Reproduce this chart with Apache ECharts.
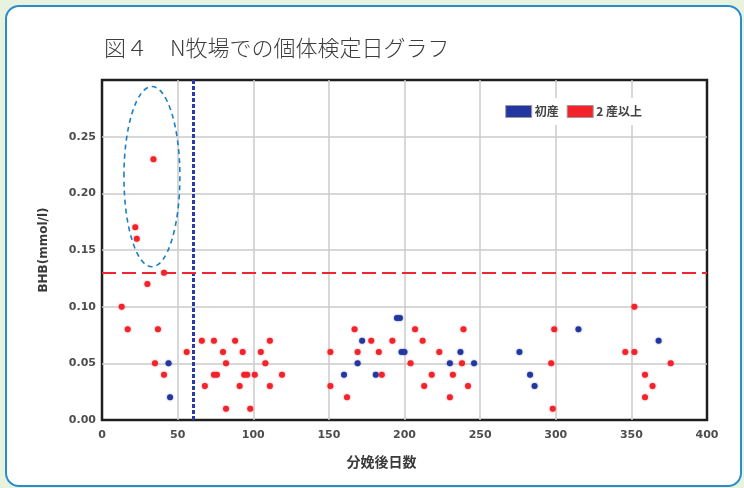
<!DOCTYPE html>
<html><head><meta charset="utf-8">
<script src="https://cdn.jsdelivr.net/npm/echarts@6/dist/echarts.min.js"></script>
<style>
html,body{margin:0;padding:0;background:#e8f3df;}
#card{position:absolute;left:5px;top:5px;width:733px;height:478px;border:2px solid #2b8ccc;border-radius:14px;background:#fff;}
#main{position:absolute;left:0;top:0;width:744px;height:488px;}
</style></head>
<body>
<div id="card"></div>
<div id="main"></div>
<script>
// 初産 (primiparous)
const firstDays = [44, 45, 160, 169, 172, 181, 195, 197, 198, 200, 230, 237, 246, 276, 283, 286, 315, 368];
const firstBHB  = [0.05, 0.02, 0.04, 0.05, 0.07, 0.04, 0.09, 0.09, 0.06, 0.06, 0.05, 0.06, 0.05, 0.06, 0.04, 0.03, 0.08, 0.07];
// 2産以上 (multiparous)
const multiDays = [13, 17, 22, 23, 30, 34, 35, 37, 41, 41, 56, 66, 74, 88, 111, 80, 93, 105, 82, 108, 74, 76, 94, 96, 101, 119, 68, 91, 111, 82, 98,
                   151, 151, 162, 167, 169, 178, 183, 185, 192, 204, 207, 212, 218, 213, 223, 230, 232, 238, 239, 242,
                   297, 299, 298, 346, 352, 352, 359, 364, 359, 376];
const multiBHB  = [0.10, 0.08, 0.17, 0.16, 0.12, 0.23, 0.05, 0.08, 0.04, 0.13, 0.06, 0.07, 0.07, 0.07, 0.07, 0.06, 0.06, 0.06, 0.05, 0.05, 0.04, 0.04, 0.04, 0.04, 0.04, 0.04, 0.03, 0.03, 0.03, 0.01, 0.01,
                   0.06, 0.03, 0.02, 0.08, 0.06, 0.07, 0.06, 0.04, 0.07, 0.05, 0.08, 0.07, 0.04, 0.03, 0.06, 0.02, 0.04, 0.05, 0.08, 0.03,
                   0.05, 0.08, 0.01, 0.06, 0.06, 0.10, 0.04, 0.03, 0.02, 0.05];
const seriesNames = ['初産', '2 産以上'];
const thresholdDays = 60;
const thresholdBHB = 0.13;
const xTicks = [0, 50, 100, 150, 200, 250, 300, 350, 400];
const yTicks = [0.00, 0.05, 0.10, 0.15, 0.20, 0.25];
// annotation ellipse (data units): center day, center BHB, half-width days, half-height BHB
const ellipseCenter = [33, 0.2147];
const ellipseHalf = [18.5, 0.0795];

const chart = echarts.init(document.getElementById('main'), null, {renderer: 'canvas'});
const lblFont = {fontFamily: 'DejaVu Sans', fontSize: 11, fontWeight: 'bold', color: '#4d4d4d'};
const zip = (a, b) => a.map((v, i) => [v, b[i]]);
const split = {showMinLine: false, showMaxLine: false, lineStyle: {color: '#cbcbcb', width: 1.5}};
chart.setOption({
  animation: false,
  backgroundColor: 'transparent',
  title: {
    text: '図４　N牧場での個体検定日グラフ',
    left: 99, top: 32,
    textStyle: {fontFamily: 'Noto Sans CJK JP', fontSize: 22, fontWeight: 300, color: '#3c3c3c'}
  },
  legend: {
    data: seriesNames,
    right: 94, top: 98,
    backgroundColor: '#fff',
    padding: [7, 8],
    itemWidth: 26, itemHeight: 12, itemGap: 8,
    icon: 'rect',
    itemStyle: {borderColor: '#9a9a9a', borderWidth: 1, opacity: 1},
    textStyle: {fontFamily: 'Noto Sans CJK JP', fontSize: 12, fontWeight: 'bold', color: '#444', padding: [0, 0, 0, -2]}
  },
  grid: {left: 102, right: 37, top: 80, bottom: 68, show: true, borderColor: '#1e1e1e', borderWidth: 2.5, backgroundColor: 'transparent'},
  xAxis: {
    type: 'value', min: xTicks[0], max: xTicks[xTicks.length - 1], interval: 50,
    name: '分娩後日数', nameLocation: 'middle', nameGap: 35,
    nameTextStyle: {fontFamily: 'Noto Sans CJK JP', fontSize: 14, fontWeight: 'bold', color: '#3a3a3a', padding: [0, 46, 0, 0]},
    axisLine: {show: false}, axisTick: {show: false},
    axisLabel: Object.assign({margin: 10, fontSize: 12}, lblFont),
    splitLine: split
  },
  yAxis: {
    type: 'value', min: 0, max: 0.3, interval: 0.05,
    name: 'BHB(mmol/l)', nameLocation: 'middle', nameGap: 52,
    nameTextStyle: {fontFamily: 'DejaVu Sans', fontSize: 12, fontWeight: 'bold', color: '#3a3a3a'},
    axisLine: {show: false}, axisTick: {show: false},
    axisLabel: Object.assign({margin: 6, formatter: v => (yTicks.some(t => Math.abs(t - v) < 1e-9) ? v.toFixed(2) : '')}, lblFont),
    splitLine: split
  },
  series: [
    {
      name: seriesNames[0], type: 'scatter', symbolSize: 6, z: 4,
      itemStyle: {color: '#2437a0', opacity: 1, shadowBlur: 2, shadowColor: 'rgba(36,55,160,0.6)'},
      data: zip(firstDays, firstBHB),
      markLine: {
        silent: true, symbol: 'none', label: {show: false},
        lineStyle: {color: '#2a3aa6', width: 3, type: [4, 2], opacity: 1},
        data: [{xAxis: thresholdDays}]
      }
    },
    {
      name: seriesNames[1], type: 'scatter', symbolSize: 6, z: 4,
      itemStyle: {color: '#f3222b', opacity: 1, shadowBlur: 2, shadowColor: 'rgba(243,34,43,0.6)'},
      data: zip(multiDays, multiBHB),
      markLine: {
        silent: true, symbol: 'none', label: {show: false},
        lineStyle: {color: '#f0262e', width: 2, type: [14, 6], opacity: 1},
        data: [{yAxis: thresholdBHB}]
      }
    }
  ]
});
// annotation ellipse positioned via the chart's own scales
const c = chart.convertToPixel({gridIndex: 0}, ellipseCenter);
const e = chart.convertToPixel({gridIndex: 0}, [ellipseCenter[0] + ellipseHalf[0], ellipseCenter[1] + ellipseHalf[1]]);
chart.setOption({
  graphic: [{
    type: 'ellipse', z: 10,
    shape: {cx: c[0], cy: c[1], rx: Math.abs(e[0] - c[0]), ry: Math.abs(c[1] - e[1])},
    style: {fill: 'none', stroke: '#1a7fc4', lineWidth: 1.6, lineDash: [5, 4]}
  }]
});
</script>
</body></html>
